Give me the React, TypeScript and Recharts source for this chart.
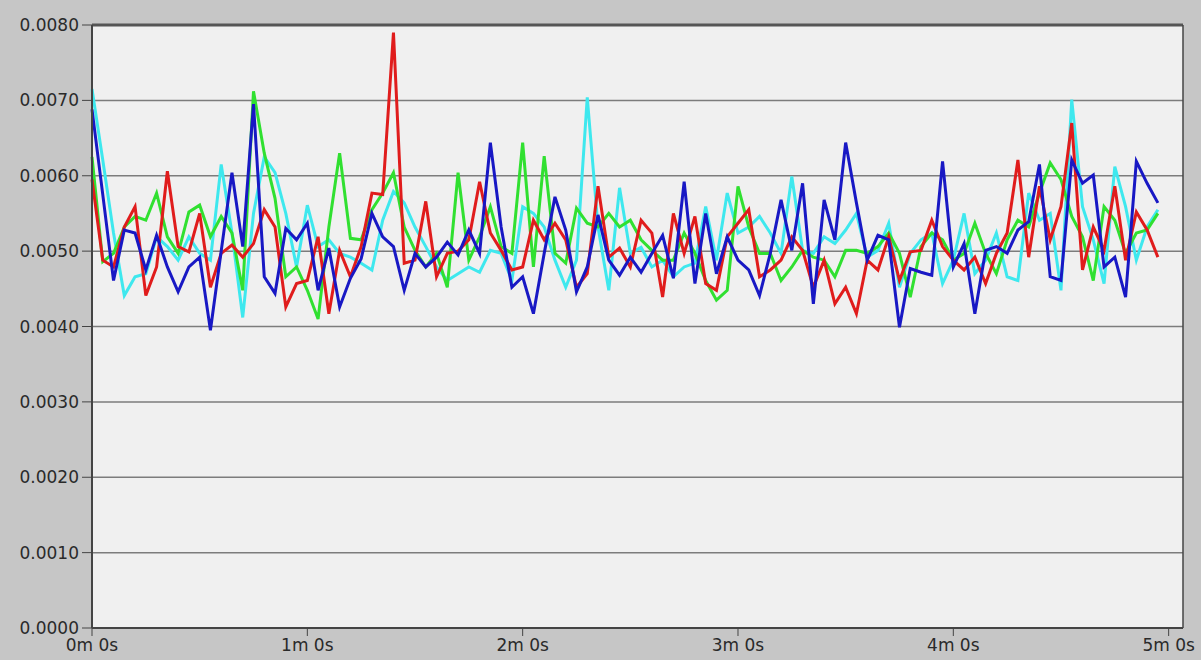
import React from 'react';
import { LineChart, Line, XAxis, YAxis, CartesianGrid, ReferenceLine } from 'recharts';

// sample times in seconds (one sample every 3 s)
const times: number[] = Array.from({ length: 100 }, (_, i) => i * 3);

const cyanSeries = [
  0.00715, 0.00621, 0.00524, 0.00441, 0.00466, 0.00470, 0.00519, 0.00506, 0.00488, 0.00519,
  0.00497, 0.00488, 0.00615, 0.00524, 0.00412, 0.00550, 0.00625, 0.00604, 0.00550, 0.00479,
  0.00561, 0.00506, 0.00515, 0.00497, 0.00492, 0.00484, 0.00475, 0.00541, 0.00579, 0.00564,
  0.00532, 0.00506, 0.00479, 0.00461, 0.00470, 0.00479, 0.00472, 0.00501, 0.00497, 0.00461,
  0.00559, 0.00550, 0.00532, 0.00488, 0.00452, 0.00488, 0.00704, 0.00532, 0.00448, 0.00584,
  0.00497, 0.00505, 0.00479, 0.00488, 0.00466, 0.00479, 0.00484, 0.00559, 0.00488, 0.00577,
  0.00524, 0.00532, 0.00546, 0.00524, 0.00497, 0.00599, 0.00501, 0.00497, 0.00519, 0.00510,
  0.00528, 0.00550, 0.00492, 0.00501, 0.00537, 0.00452, 0.00497, 0.00515, 0.00524, 0.00457,
  0.00488, 0.00550, 0.00470, 0.00488, 0.00524, 0.00466, 0.00461, 0.00577, 0.00541, 0.00550,
  0.00448, 0.00701, 0.00559, 0.00515, 0.00457, 0.00612, 0.00559, 0.00488, 0.00532, 0.00555,
];

const greenSeries = [
  0.00625, 0.00486, 0.00497, 0.00532, 0.00546, 0.00541, 0.00577, 0.00519, 0.00497, 0.00552,
  0.00561, 0.00519, 0.00546, 0.00524, 0.00448, 0.00712, 0.00630, 0.00570, 0.00466, 0.00479,
  0.00448, 0.00410, 0.00532, 0.00630, 0.00517, 0.00515, 0.00555, 0.00577, 0.00604, 0.00532,
  0.00501, 0.00479, 0.00497, 0.00452, 0.00604, 0.00488, 0.00519, 0.00559, 0.00506, 0.00497,
  0.00644, 0.00479, 0.00626, 0.00497, 0.00484, 0.00557, 0.00537, 0.00532, 0.00550, 0.00532,
  0.00541, 0.00515, 0.00501, 0.00488, 0.00488, 0.00524, 0.00497, 0.00461, 0.00435, 0.00448,
  0.00586, 0.00532, 0.00497, 0.00497, 0.00461, 0.00479, 0.00501, 0.00492, 0.00488, 0.00466,
  0.00501, 0.00501, 0.00497, 0.00506, 0.00524, 0.00497, 0.00439, 0.00506, 0.00524, 0.00515,
  0.00488, 0.00497, 0.00537, 0.00497, 0.00470, 0.00515, 0.00541, 0.00532, 0.00577, 0.00617,
  0.00595, 0.00546, 0.00519, 0.00461, 0.00559, 0.00541, 0.00497, 0.00524, 0.00528, 0.00550,
];

const redSeries = [
  0.00595, 0.00488, 0.00479, 0.00532, 0.00559, 0.00441, 0.00479, 0.00606, 0.00506, 0.00499,
  0.00550, 0.00452, 0.00497, 0.00508, 0.00492, 0.00510, 0.00555, 0.00532, 0.00426, 0.00457,
  0.00461, 0.00519, 0.00417, 0.00501, 0.00466, 0.00506, 0.00577, 0.00575, 0.00790, 0.00484,
  0.00488, 0.00566, 0.00466, 0.00497, 0.00500, 0.00515, 0.00592, 0.00524, 0.00501, 0.00475,
  0.00479, 0.00541, 0.00515, 0.00537, 0.00515, 0.00452, 0.00470, 0.00586, 0.00492, 0.00504,
  0.00479, 0.00541, 0.00524, 0.00439, 0.00550, 0.00497, 0.00546, 0.00457, 0.00448, 0.00519,
  0.00537, 0.00555, 0.00466, 0.00475, 0.00488, 0.00519, 0.00501, 0.00452, 0.00488, 0.00430,
  0.00452, 0.00417, 0.00488, 0.00475, 0.00519, 0.00461, 0.00499, 0.00501, 0.00541, 0.00506,
  0.00488, 0.00475, 0.00492, 0.00457, 0.00497, 0.00524, 0.00621, 0.00492, 0.00586, 0.00515,
  0.00559, 0.00670, 0.00475, 0.00532, 0.00501, 0.00586, 0.00488, 0.00552, 0.00528, 0.00492,
];

const blueSeries = [
  0.00688, 0.00575, 0.00461, 0.00528, 0.00524, 0.00475, 0.00521, 0.00479, 0.00446, 0.00479,
  0.00492, 0.00395, 0.00500, 0.00604, 0.00506, 0.00695, 0.00466, 0.00444, 0.00530, 0.00515,
  0.00537, 0.00448, 0.00504, 0.00426, 0.00464, 0.00490, 0.00550, 0.00519, 0.00506, 0.00448,
  0.00497, 0.00479, 0.00492, 0.00512, 0.00495, 0.00528, 0.00497, 0.00644, 0.00532, 0.00452,
  0.00466, 0.00417, 0.00497, 0.00572, 0.00528, 0.00446, 0.00479, 0.00548, 0.00488, 0.00468,
  0.00492, 0.00472, 0.00497, 0.00521, 0.00464, 0.00592, 0.00457, 0.00550, 0.00470, 0.00519,
  0.00488, 0.00475, 0.00441, 0.00497, 0.00568, 0.00501, 0.00590, 0.00430, 0.00568, 0.00515,
  0.00644, 0.00564, 0.00488, 0.00521, 0.00515, 0.00399, 0.00477, 0.00472, 0.00468, 0.00619,
  0.00479, 0.00510, 0.00417, 0.00501, 0.00506, 0.00497, 0.00528, 0.00539, 0.00615, 0.00466,
  0.00461, 0.00621, 0.00590, 0.00601, 0.00479, 0.00492, 0.00439, 0.00619, 0.00590, 0.00564,
];

const xTicks = [0, 60, 120, 180, 240, 300];
const yTicks = [0, 0.001, 0.002, 0.003, 0.004, 0.005, 0.006, 0.007, 0.008];

const data = times.map((t, i) => ({
  t,
  cyan: cyanSeries[i],
  green: greenSeries[i],
  red: redSeries[i],
  blue: blueSeries[i],
}));

const fmtTime = (s: number) => `${Math.floor(s / 60)}m ${Math.round(s % 60)}s`;
const tickFont = { fill: '#2a2a2a', fontSize: 17, fontFamily: 'DejaVu Sans' };

export default function App() {
  return (
    <div style={{ position: 'absolute', left: 0, top: 0, width: 1201, height: 660, background: '#c6c6c6' }}>
      <LineChart width={1201} height={660} data={data} margin={{ top: 25, right: 18, bottom: 0, left: 0 }}>
        <CartesianGrid vertical={false} fill="#f0f0f0" stroke="#7c7c7c" strokeWidth={1.5} />
        <XAxis
          dataKey="t"
          type="number"
          domain={[0, 304]}
          ticks={xTicks}
          interval={0}
          tickFormatter={fmtTime}
          height={32}
          tickSize={8}
          tickMargin={3}
          axisLine={{ stroke: '#444', strokeWidth: 2 }}
          tickLine={{ stroke: '#444' }}
          tick={tickFont}
        />
        <YAxis
          domain={[0, 0.008]}
          ticks={yTicks}
          interval={0}
          tickFormatter={(v: number) => v.toFixed(4)}
          width={92}
          tickSize={10}
          tickMargin={3}
          axisLine={{ stroke: '#444', strokeWidth: 2 }}
          tickLine={{ stroke: '#444' }}
          tick={tickFont}
        />
        <ReferenceLine y={0.008} stroke="#555" strokeWidth={3} />
        <ReferenceLine x={304} stroke="#444" strokeWidth={1.5} />
        <Line dataKey="cyan" stroke="#3ee8ee" strokeWidth={3} dot={false} isAnimationActive={false} />
        <Line dataKey="green" stroke="#30e030" strokeWidth={3} dot={false} isAnimationActive={false} />
        <Line dataKey="red" stroke="#e01c1c" strokeWidth={3} dot={false} isAnimationActive={false} />
        <Line dataKey="blue" stroke="#1818c4" strokeWidth={3} dot={false} isAnimationActive={false} />
      </LineChart>
    </div>
  );
}
